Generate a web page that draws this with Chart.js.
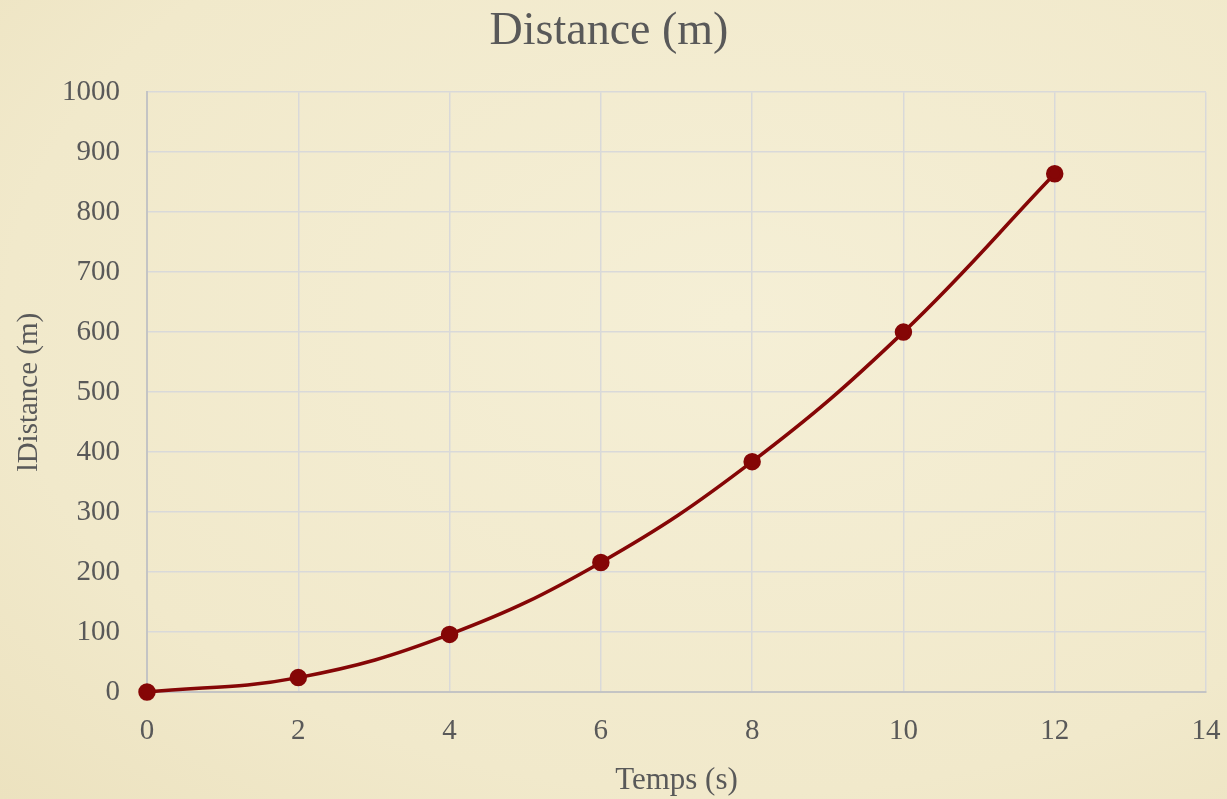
<!DOCTYPE html>
<html>
<head>
<meta charset="utf-8">
<script src="https://cdn.jsdelivr.net/npm/chart.js@4"></script>
<style>
  html, body { margin: 0; padding: 0; }
  body {
    width: 1227px; height: 799px; overflow: hidden;
    background: radial-gradient(ellipse at 60% 40%, #f5efd6 0%, #f1e9cb 70%, #ece2bf 100%);
  }
  #wrap { position: relative; width: 1227px; height: 799px; }
</style>
</head>
<body>
<div id="wrap"><canvas id="chart" width="1227" height="799"></canvas></div>
<script>
// data
const temps = [0, 2, 4, 6, 8, 10, 12];
const distance = [0, 24, 96, 216, 384, 600, 864];
const xTicks = [0, 2, 4, 6, 8, 10, 12, 14];
const yTicks = [0, 100, 200, 300, 400, 500, 600, 700, 800, 900, 1000];

const serif = "'Liberation Serif', 'DejaVu Serif', serif";
const textColor = '#595959';
const red = '#850606';

const points = temps.map((t, i) => ({ x: t, y: distance[i] }));

const ctx = document.getElementById('chart').getContext('2d');
const chart = new Chart(ctx, {
    type: 'scatter',
    data: {
        datasets: [{
            label: 'Distance (m)',
            data: points,
            showLine: true,
            tension: 0.4,
            clip: false,
            borderColor: red,
            backgroundColor: red,
            borderWidth: 3.5,
            pointRadius: 7,
            pointHoverRadius: 7
        }]
    },
    options: {
        responsive: false,
        animation: false,
        layout: { padding: { left: 12, right: 21, top: 0, bottom: 0 } },
        plugins: {
            legend: { display: false },
            tooltip: { enabled: false },
            title: {
                display: true,
                text: 'Distance (m)',
                color: textColor,
                font: { family: serif, size: 46, weight: 'normal' },
                padding: { top: 4, bottom: 33 }
            }
        },
        scales: {
            x: {
                type: 'linear',
                min: xTicks[0],
                max: xTicks[xTicks.length - 1],
                afterBuildTicks: (axis) => { axis.ticks = xTicks.map(v => ({ value: v })); },
                afterFit: (axis) => {
                    axis.height = 107;
                    axis.paddingLeft = 0;
                    axis.paddingRight = 0;
                },
                ticks: {
                    color: textColor,
                    font: { family: serif, size: 29 },
                    padding: 22,
                    maxRotation: 0,
                    callback: (v) => String(v)
                },
                grid: { color: '#d9d9d9', lineWidth: 1.5, drawTicks: false },
                border: { color: '#c4c4c4', width: 2 },
                title: {
                    display: true,
                    text: 'Temps (s)',
                    color: textColor,
                    font: { family: serif, size: 31 },
                    padding: { top: 0, bottom: 0 }
                }
            },
            y: {
                type: 'linear',
                min: yTicks[0],
                max: yTicks[yTicks.length - 1],
                afterBuildTicks: (axis) => { axis.ticks = yTicks.map(v => ({ value: v })); },
                afterFit: (axis) => {
                    axis.width = 135;
                    axis.paddingTop = 0;
                    axis.paddingBottom = 0;
                },
                ticks: {
                    color: textColor,
                    font: { family: serif, size: 29 },
                    padding: 27,
                    callback: (v) => String(v)
                },
                grid: { color: '#d9d9d9', lineWidth: 1.5, drawTicks: false },
                border: { color: '#c4c4c4', width: 2 },
                title: {
                    display: true,
                    text: 'lDistance (m)',
                    color: textColor,
                    font: { family: serif, size: 29 },
                    padding: { top: 0, bottom: 0 }
                }
            }
        }
    }
});
</script>
</body>
</html>
